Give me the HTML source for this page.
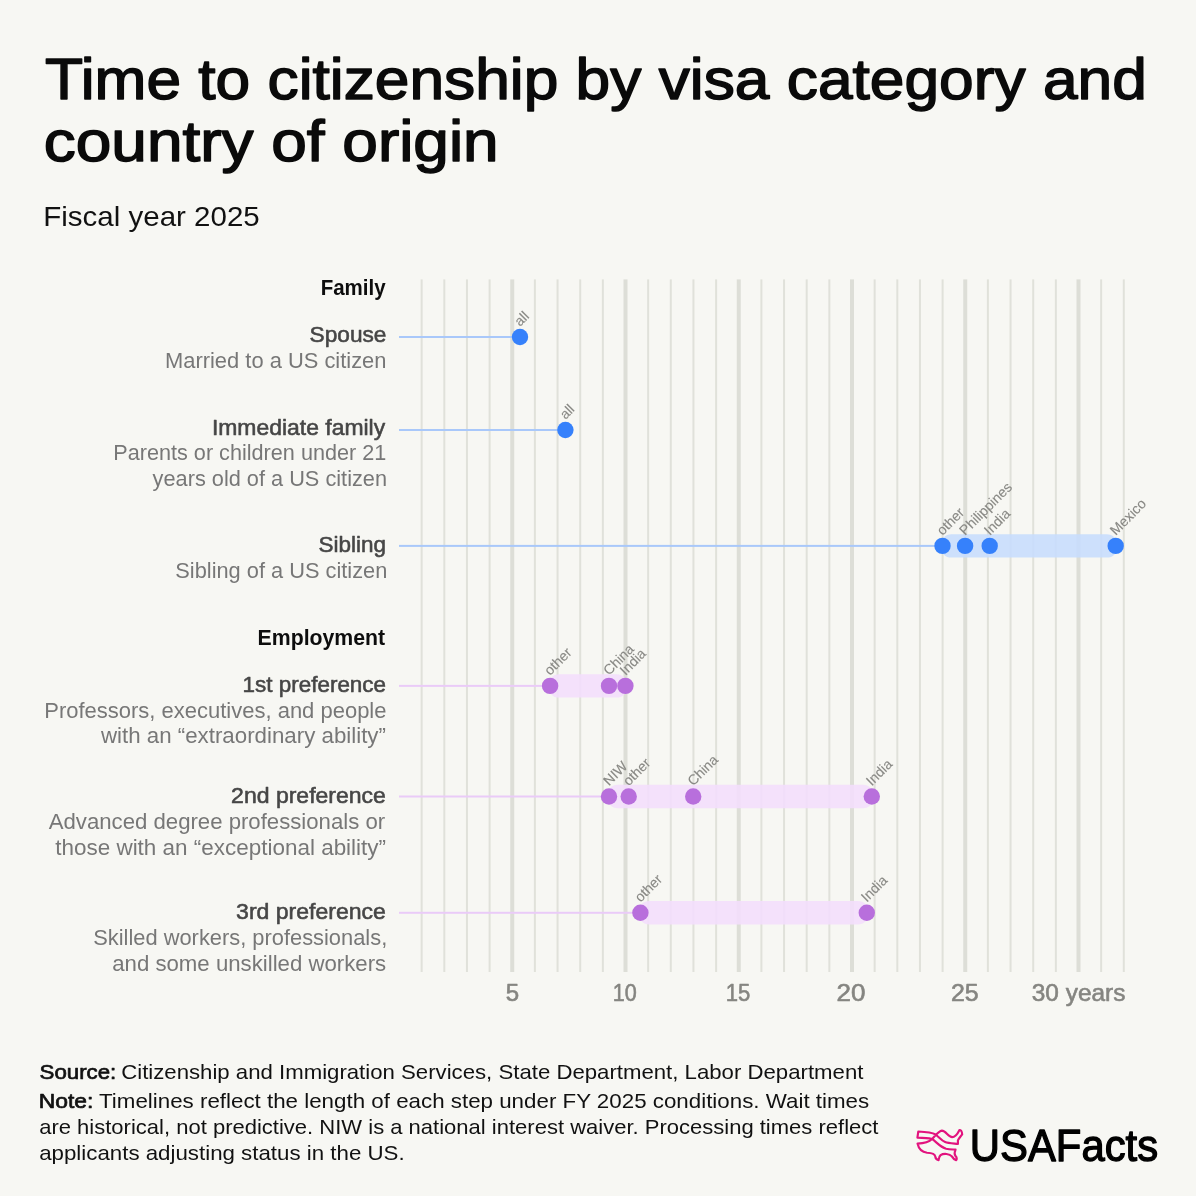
<!DOCTYPE html>
<html><head><meta charset="utf-8"><style>
html,body{margin:0;padding:0;background:#f7f7f3;}
svg{display:block;font-family:"Liberation Sans",sans-serif;will-change:transform;}
</style></head><body>
<svg width="1196" height="1196" viewBox="0 0 1196 1196">
<rect width="1196" height="1196" fill="#f7f7f3"/>
<rect x="420.65" y="279.4" width="2" height="692.6" fill="#e0e1da"/>
<rect x="443.30" y="279.4" width="2" height="692.6" fill="#e0e1da"/>
<rect x="465.95" y="279.4" width="2" height="692.6" fill="#e0e1da"/>
<rect x="488.60" y="279.4" width="2" height="692.6" fill="#e0e1da"/>
<rect x="510.25" y="279.4" width="4" height="692.6" fill="#dddeD7"/>
<rect x="533.90" y="279.4" width="2" height="692.6" fill="#e0e1da"/>
<rect x="556.55" y="279.4" width="2" height="692.6" fill="#e0e1da"/>
<rect x="579.20" y="279.4" width="2" height="692.6" fill="#e0e1da"/>
<rect x="601.85" y="279.4" width="2" height="692.6" fill="#e0e1da"/>
<rect x="623.50" y="279.4" width="4" height="692.6" fill="#dddeD7"/>
<rect x="647.15" y="279.4" width="2" height="692.6" fill="#e0e1da"/>
<rect x="669.80" y="279.4" width="2" height="692.6" fill="#e0e1da"/>
<rect x="692.45" y="279.4" width="2" height="692.6" fill="#e0e1da"/>
<rect x="715.10" y="279.4" width="2" height="692.6" fill="#e0e1da"/>
<rect x="736.75" y="279.4" width="4" height="692.6" fill="#dddeD7"/>
<rect x="760.40" y="279.4" width="2" height="692.6" fill="#e0e1da"/>
<rect x="783.05" y="279.4" width="2" height="692.6" fill="#e0e1da"/>
<rect x="805.70" y="279.4" width="2" height="692.6" fill="#e0e1da"/>
<rect x="828.35" y="279.4" width="2" height="692.6" fill="#e0e1da"/>
<rect x="850.00" y="279.4" width="4" height="692.6" fill="#dddeD7"/>
<rect x="873.65" y="279.4" width="2" height="692.6" fill="#e0e1da"/>
<rect x="896.30" y="279.4" width="2" height="692.6" fill="#e0e1da"/>
<rect x="918.95" y="279.4" width="2" height="692.6" fill="#e0e1da"/>
<rect x="941.60" y="279.4" width="2" height="692.6" fill="#e0e1da"/>
<rect x="963.25" y="279.4" width="4" height="692.6" fill="#dddeD7"/>
<rect x="986.90" y="279.4" width="2" height="692.6" fill="#e0e1da"/>
<rect x="1009.55" y="279.4" width="2" height="692.6" fill="#e0e1da"/>
<rect x="1032.20" y="279.4" width="2" height="692.6" fill="#e0e1da"/>
<rect x="1054.85" y="279.4" width="2" height="692.6" fill="#e0e1da"/>
<rect x="1076.50" y="279.4" width="4" height="692.6" fill="#dddeD7"/>
<rect x="1100.15" y="279.4" width="2" height="692.6" fill="#e0e1da"/>
<rect x="1122.80" y="279.4" width="2" height="692.6" fill="#e0e1da"/>
<rect x="399.0" y="336.0" width="121.00" height="2" fill="#a9c8fa"/>
<circle cx="520.0" cy="337.0" r="8.2" fill="#3681fb"/>
<text x="520.00" y="327.00" transform="rotate(-45 520.00 327.00)" font-size="14" fill="#898985" stroke="#898985" stroke-width="0.12">all</text>
<rect x="399.0" y="429.0" width="166.40" height="2" fill="#a9c8fa"/>
<circle cx="565.4" cy="430.0" r="8.2" fill="#3681fb"/>
<text x="565.40" y="420.00" transform="rotate(-45 565.40 420.00)" font-size="14" fill="#898985" stroke="#898985" stroke-width="0.12">all</text>
<rect x="399.0" y="544.9" width="543.50" height="2" fill="#a9c8fa"/>
<rect x="940.50" y="534.20" width="177.20" height="23.4" rx="11" fill="#c8ddfd" fill-opacity="0.9"/>
<circle cx="942.5" cy="545.9" r="8.2" fill="#3681fb"/>
<text x="942.50" y="535.90" transform="rotate(-45 942.50 535.90)" font-size="14" fill="#898985" stroke="#898985" stroke-width="0.12">other</text>
<circle cx="965.1" cy="545.9" r="8.2" fill="#3681fb"/>
<text x="965.10" y="535.90" transform="rotate(-45 965.10 535.90)" font-size="14" fill="#898985" stroke="#898985" stroke-width="0.12">Philippines</text>
<circle cx="989.7" cy="545.9" r="8.2" fill="#3681fb"/>
<text x="989.70" y="535.90" transform="rotate(-45 989.70 535.90)" font-size="14" fill="#898985" stroke="#898985" stroke-width="0.12">India</text>
<circle cx="1115.7" cy="545.9" r="8.2" fill="#3681fb"/>
<text x="1115.70" y="535.90" transform="rotate(-45 1115.70 535.90)" font-size="14" fill="#898985" stroke="#898985" stroke-width="0.12">Mexico</text>
<rect x="399.0" y="684.9" width="151.10" height="2" fill="#eacbf8"/>
<rect x="548.10" y="674.20" width="79.30" height="23.4" rx="11" fill="#f3defc" fill-opacity="0.9"/>
<circle cx="550.1" cy="685.9" r="8.2" fill="#b86fdc"/>
<text x="550.10" y="675.90" transform="rotate(-45 550.10 675.90)" font-size="14" fill="#898985" stroke="#898985" stroke-width="0.12">other</text>
<circle cx="609.0" cy="685.9" r="8.2" fill="#b86fdc"/>
<text x="609.00" y="675.90" transform="rotate(-45 609.00 675.90)" font-size="14" fill="#898985" stroke="#898985" stroke-width="0.12">China</text>
<circle cx="625.4" cy="685.9" r="8.2" fill="#b86fdc"/>
<text x="625.40" y="675.90" transform="rotate(-45 625.40 675.90)" font-size="14" fill="#898985" stroke="#898985" stroke-width="0.12">India</text>
<rect x="399.0" y="795.5" width="210.00" height="2" fill="#eacbf8"/>
<rect x="607.00" y="784.80" width="266.80" height="23.4" rx="11" fill="#f3defc" fill-opacity="0.9"/>
<circle cx="609.0" cy="796.5" r="8.2" fill="#b86fdc"/>
<text x="609.00" y="786.50" transform="rotate(-45 609.00 786.50)" font-size="14" fill="#898985" stroke="#898985" stroke-width="0.12">NIW</text>
<circle cx="628.7" cy="796.5" r="8.2" fill="#b86fdc"/>
<text x="628.70" y="786.50" transform="rotate(-45 628.70 786.50)" font-size="14" fill="#898985" stroke="#898985" stroke-width="0.12">other</text>
<circle cx="693.2" cy="796.5" r="8.2" fill="#b86fdc"/>
<text x="693.20" y="786.50" transform="rotate(-45 693.20 786.50)" font-size="14" fill="#898985" stroke="#898985" stroke-width="0.12">China</text>
<circle cx="871.8" cy="796.5" r="8.2" fill="#b86fdc"/>
<text x="871.80" y="786.50" transform="rotate(-45 871.80 786.50)" font-size="14" fill="#898985" stroke="#898985" stroke-width="0.12">India</text>
<rect x="399.0" y="911.8" width="241.40" height="2" fill="#eacbf8"/>
<rect x="638.40" y="901.10" width="230.40" height="23.4" rx="11" fill="#f3defc" fill-opacity="0.9"/>
<circle cx="640.4" cy="912.8" r="8.2" fill="#b86fdc"/>
<text x="640.40" y="902.80" transform="rotate(-45 640.40 902.80)" font-size="14" fill="#898985" stroke="#898985" stroke-width="0.12">other</text>
<circle cx="866.8" cy="912.8" r="8.2" fill="#b86fdc"/>
<text x="866.80" y="902.80" transform="rotate(-45 866.80 902.80)" font-size="14" fill="#898985" stroke="#898985" stroke-width="0.12">India</text>
<text x="44.95" y="99.40" font-size="58" stroke="#0a0a0a" stroke-width="1.5" stroke-linejoin="round" fill="#0a0a0a" textLength="1101.88" lengthAdjust="spacingAndGlyphs" >Time to citizenship by visa category and</text>
<text x="43.87" y="160.90" font-size="58" stroke="#0a0a0a" stroke-width="1.5" stroke-linejoin="round" fill="#0a0a0a" textLength="454.82" lengthAdjust="spacingAndGlyphs" >country of origin</text>
<text x="43.22" y="225.50" font-size="28" fill="#111" textLength="216.48" lengthAdjust="spacingAndGlyphs" >Fiscal year 2025</text>
<text x="320.68" y="294.90" font-size="21.5" font-weight="bold" fill="#0d0d0d" textLength="65.02" lengthAdjust="spacingAndGlyphs" >Family</text>
<text x="309.57" y="341.60" font-size="21.5" stroke="#464646" stroke-width="0.55" stroke-linejoin="round" fill="#464646" textLength="76.87" lengthAdjust="spacingAndGlyphs" >Spouse</text>
<text x="165.02" y="368.00" font-size="21.5" fill="#777" textLength="221.44" lengthAdjust="spacingAndGlyphs" >Married to a US citizen</text>
<text x="211.92" y="435.10" font-size="21.5" stroke="#464646" stroke-width="0.55" stroke-linejoin="round" fill="#464646" textLength="173.26" lengthAdjust="spacingAndGlyphs" >Immediate family</text>
<text x="113.30" y="460.20" font-size="21.5" fill="#777" textLength="273.03" lengthAdjust="spacingAndGlyphs" >Parents or children under 21</text>
<text x="152.62" y="486.00" font-size="21.5" fill="#777" textLength="234.44" lengthAdjust="spacingAndGlyphs" >years old of a US citizen</text>
<text x="318.57" y="551.70" font-size="21.5" stroke="#464646" stroke-width="0.55" stroke-linejoin="round" fill="#464646" textLength="67.48" lengthAdjust="spacingAndGlyphs" >Sibling</text>
<text x="175.30" y="577.50" font-size="21.5" fill="#777" textLength="212.02" lengthAdjust="spacingAndGlyphs" >Sibling of a US citizen</text>
<text x="257.58" y="644.75" font-size="21.5" font-weight="bold" fill="#0d0d0d" textLength="127.60" lengthAdjust="spacingAndGlyphs" >Employment</text>
<text x="242.58" y="691.80" font-size="21.5" stroke="#464646" stroke-width="0.55" stroke-linejoin="round" fill="#464646" textLength="143.49" lengthAdjust="spacingAndGlyphs" >1st preference</text>
<text x="44.26" y="717.50" font-size="21.5" fill="#777" textLength="342.23" lengthAdjust="spacingAndGlyphs" >Professors, executives, and people</text>
<text x="100.94" y="743.00" font-size="21.5" fill="#777" textLength="284.98" lengthAdjust="spacingAndGlyphs" >with an “extraordinary ability”</text>
<text x="231.09" y="803.10" font-size="21.5" stroke="#464646" stroke-width="0.55" stroke-linejoin="round" fill="#464646" textLength="154.85" lengthAdjust="spacingAndGlyphs" >2nd preference</text>
<text x="48.72" y="828.80" font-size="21.5" fill="#777" textLength="336.42" lengthAdjust="spacingAndGlyphs" >Advanced degree professionals or</text>
<text x="55.24" y="855.00" font-size="21.5" fill="#777" textLength="330.81" lengthAdjust="spacingAndGlyphs" >those with an “exceptional ability”</text>
<text x="236.09" y="918.50" font-size="21.5" stroke="#464646" stroke-width="0.55" stroke-linejoin="round" fill="#464646" textLength="149.86" lengthAdjust="spacingAndGlyphs" >3rd preference</text>
<text x="93.20" y="944.80" font-size="21.5" fill="#777" textLength="294.02" lengthAdjust="spacingAndGlyphs" >Skilled workers, professionals,</text>
<text x="112.20" y="971.00" font-size="21.5" fill="#777" textLength="274.03" lengthAdjust="spacingAndGlyphs" >and some unskilled workers</text>
<text x="505.74" y="1001.00" font-size="24" stroke="#858581" stroke-width="0.6" stroke-linejoin="round" fill="#858581" textLength="13.38" lengthAdjust="spacingAndGlyphs" >5</text>
<text x="612.70" y="1001.00" font-size="24" stroke="#858581" stroke-width="0.6" stroke-linejoin="round" fill="#858581" textLength="24.02" lengthAdjust="spacingAndGlyphs" >10</text>
<text x="725.70" y="1001.00" font-size="24" stroke="#858581" stroke-width="0.6" stroke-linejoin="round" fill="#858581" textLength="24.57" lengthAdjust="spacingAndGlyphs" >15</text>
<text x="836.60" y="1001.00" font-size="24" stroke="#858581" stroke-width="0.6" stroke-linejoin="round" fill="#858581" textLength="28.90" lengthAdjust="spacingAndGlyphs" >20</text>
<text x="951.02" y="1001.00" font-size="24" stroke="#858581" stroke-width="0.6" stroke-linejoin="round" fill="#858581" textLength="27.71" lengthAdjust="spacingAndGlyphs" >25</text>
<text x="1031.78" y="1001.00" font-size="24" stroke="#858581" stroke-width="0.6" stroke-linejoin="round" fill="#858581" textLength="93.59" lengthAdjust="spacingAndGlyphs" >30 years</text>
<text x="39.55" y="1078.80" font-size="21" stroke="#111" stroke-width="0.7" stroke-linejoin="round" fill="#111" textLength="76.76" lengthAdjust="spacingAndGlyphs" >Source:</text>
<text x="121.20" y="1078.80" font-size="21" fill="#111" textLength="742.21" lengthAdjust="spacingAndGlyphs" >Citizenship and Immigration Services, State Department, Labor Department</text>
<text x="38.75" y="1107.80" font-size="21" stroke="#111" stroke-width="0.7" stroke-linejoin="round" fill="#111" textLength="54.68" lengthAdjust="spacingAndGlyphs" >Note:</text>
<text x="99.00" y="1107.80" font-size="21" fill="#111" textLength="770.18" lengthAdjust="spacingAndGlyphs" >Timelines reflect the length of each step under FY 2025 conditions. Wait times</text>
<text x="39.20" y="1133.50" font-size="21" fill="#111" textLength="839.21" lengthAdjust="spacingAndGlyphs" >are historical, not predictive. NIW is a national interest waiver. Processing times reflect</text>
<text x="39.20" y="1160.40" font-size="21" fill="#111" textLength="365.43" lengthAdjust="spacingAndGlyphs" >applicants adjusting status in the US.</text>
<g transform="translate(910,1120) scale(0.05017)" fill="none" stroke="#e2137e" stroke-width="43" stroke-linejoin="round">
<path d="M510,290 C430,245 330,238 165,230 L148,350 C270,352 360,358 440,378 C540,450 600,540 720,572 C800,590 860,585 908,590 C885,640 880,680 905,715 C940,745 935,790 920,800 C880,790 860,770 835,725 C790,670 670,660 610,700 C575,730 575,770 570,800 C520,790 505,760 505,730 C495,670 440,655 340,652 C220,640 170,560 150,470 C300,465 380,440 440,380 C520,290 580,215 635,212 C720,215 760,340 840,340 C920,340 960,250 985,200 C1020,200 1035,220 1040,285 C1000,340 970,370 955,405 L955,478 C860,468 760,465 700,440 C620,405 570,330 510,290"/>
</g>
<text x="969.83" y="1160.80" font-size="45" stroke="#000" stroke-width="1.3" stroke-linejoin="round" fill="#000" textLength="188.32" lengthAdjust="spacingAndGlyphs" >USAFacts</text>
</svg>
</body></html>
